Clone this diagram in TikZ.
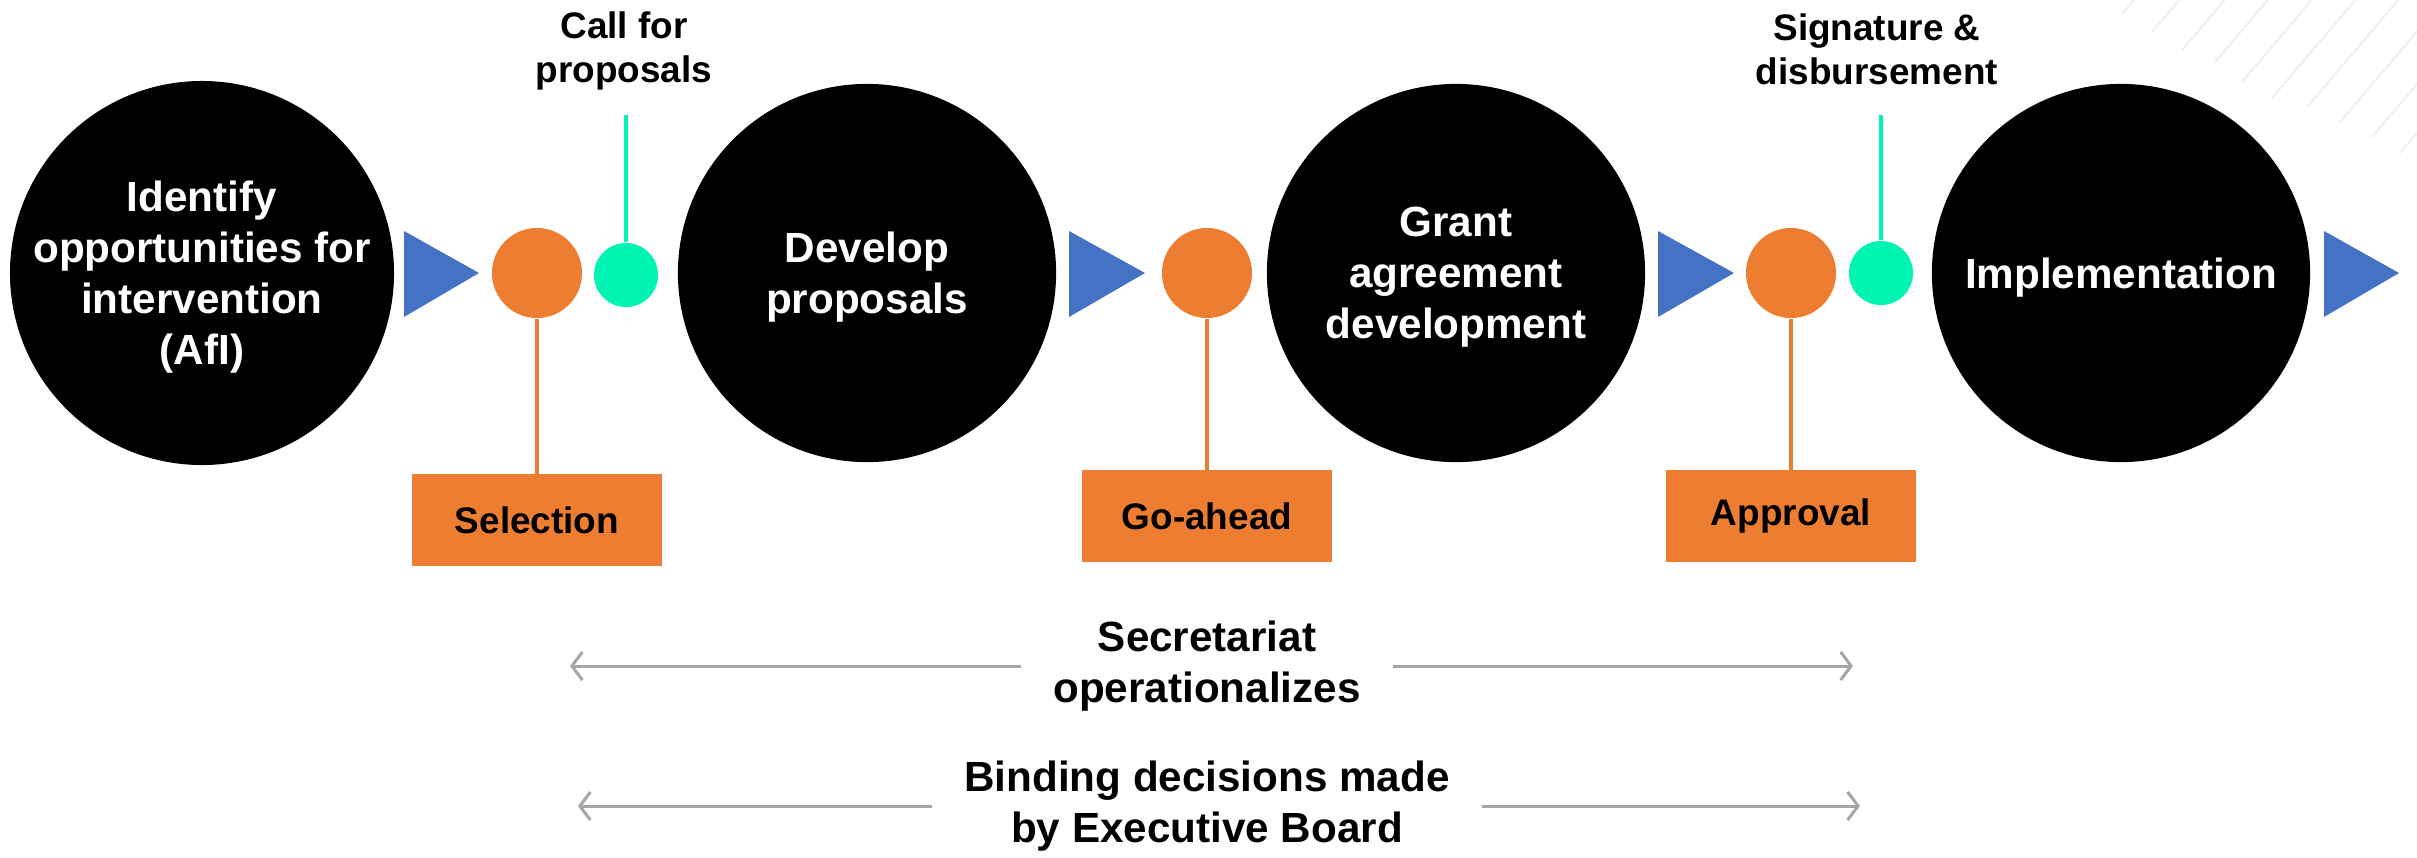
\documentclass[tikz,border=0pt]{standalone}
\usepackage{fontspec}
\setmainfont{Liberation Sans}
\usetikzlibrary{arrows.meta}
\definecolor{dotorange}{HTML}{ED7D31}
\definecolor{triblue}{HTML}{4472C4}
\definecolor{mint}{HTML}{00F5B5}
\definecolor{spangrey}{HTML}{A6A6A6}
\definecolor{hatchgrey}{HTML}{EDEFF3}

\begin{document}
\begin{tikzpicture}[x=0.01cm, y=-0.01cm]


\tikzset{stage/.style={fill=black, shape=circle, minimum size=3.78cm, inner sep=0, text=white, align=center, text depth=0pt, font=\fontsize{12}{14.5}\selectfont\bfseries}}
\tikzset{gate/.style={fill=dotorange, shape=circle, minimum size=0.9cm, inner sep=0}}
\tikzset{milestone/.style={fill=mint, shape=circle, minimum size=0.64cm, inner sep=0}}
\tikzset{gatebox/.style={fill=dotorange, shape=rectangle, minimum width=2.5cm, minimum height=0.91cm, font=\fontsize{10.5}{12.6}\selectfont\bfseries}}
\tikzset{toplabel/.style={align=center, font=\fontsize{10.5}{12.5}\selectfont\bfseries}}
\tikzset{spanlabel/.style={align=center, inner xsep=9pt, font=\fontsize{12}{14.5}\selectfont\bfseries}}
\tikzset{flowtri/.style={fill=triblue}}
\tikzset{gatestem/.style={draw=dotorange, line width=1pt}}
\tikzset{mintstem/.style={draw=mint, line width=1pt}}
\tikzset{span/.style={draw=spangrey, line width=0.85pt, -{Straight Barb[length=3pt, width=8pt]}}}
\tikzset{hatch/.style={draw=hatchgrey, line width=0.6pt}}
\useasboundingbox (0,0) rectangle (2417,857);
\begin{scope}
\clip (0,0) rectangle (2417,857);
\foreach \hx/\hy in {2122/14, 2152/32, 2182/50, 2215/62, 2242/82, 2272/98, 2308/106, 2340/122, 2372/137, 2400/153}
  \draw[hatch] (\hx,\hy) -- ++(170,-200);
\end{scope}
\node[stage] (a1) at (202,273) {Identify\\opportunities for\\intervention\\(AfI)};
\node[stage] (a2) at (867,273) {Develop\\proposals};
\node[stage] (a3) at (1456,273) {Grant\\agreement\\development};
\node[stage] (a4) at (2121,273) {Implementation};
\fill[flowtri] (404,231) -- (479,273) -- (404,317) -- cycle;
\fill[flowtri] (1069,231) -- (1145,273) -- (1069,317) -- cycle;
\fill[flowtri] (1658,231) -- (1734,273) -- (1658,317) -- cycle;
\fill[flowtri] (2324,231) -- (2399,273) -- (2324,317) -- cycle;
\node[gate] (g1) at (537,273) {};
\node[gate] (g2) at (1207,273) {};
\node[gate] (g3) at (1791,273) {};
\node[milestone] (m1) at (626,275) {};
\node[milestone] (m2) at (1881,273) {};
\node[gatebox] (b1) at (537,520) {Selection};
\node[gatebox] (b2) at (1207,516) {Go-ahead};
\node[gatebox] (b3) at (1791,516) {Approval};
\draw[gatestem] (g1) -- (b1);
\draw[gatestem] (g2) -- (b2);
\draw[gatestem] (g3) -- (b3);
\node[toplabel] (c1) at (624,51) {Call for\\proposals};
\node[toplabel] (c2) at (1877,49) {Signature \&\\disbursement};
\coordinate (c1s) at (626,115);
\coordinate (c2s) at (1881,115);
\draw[mintstem] (c1s) -- (m1);
\draw[mintstem] (c2s) -- (m2);
\node[spanlabel] (sec) at (1207,666) {Secretariat\\operationalizes};
\coordinate (secL) at (570,666);
\coordinate (secR) at (1853,666);
\draw[span] (sec) -- (secL);
\draw[span] (sec) -- (secR);
\node[spanlabel] (bind) at (1207,806) {Binding decisions made\\by Executive Board};
\coordinate (bindL) at (578,806);
\coordinate (bindR) at (1860,806);
\draw[span] (bind) -- (bindL);
\draw[span] (bind) -- (bindR);

\end{tikzpicture}
\end{document}
